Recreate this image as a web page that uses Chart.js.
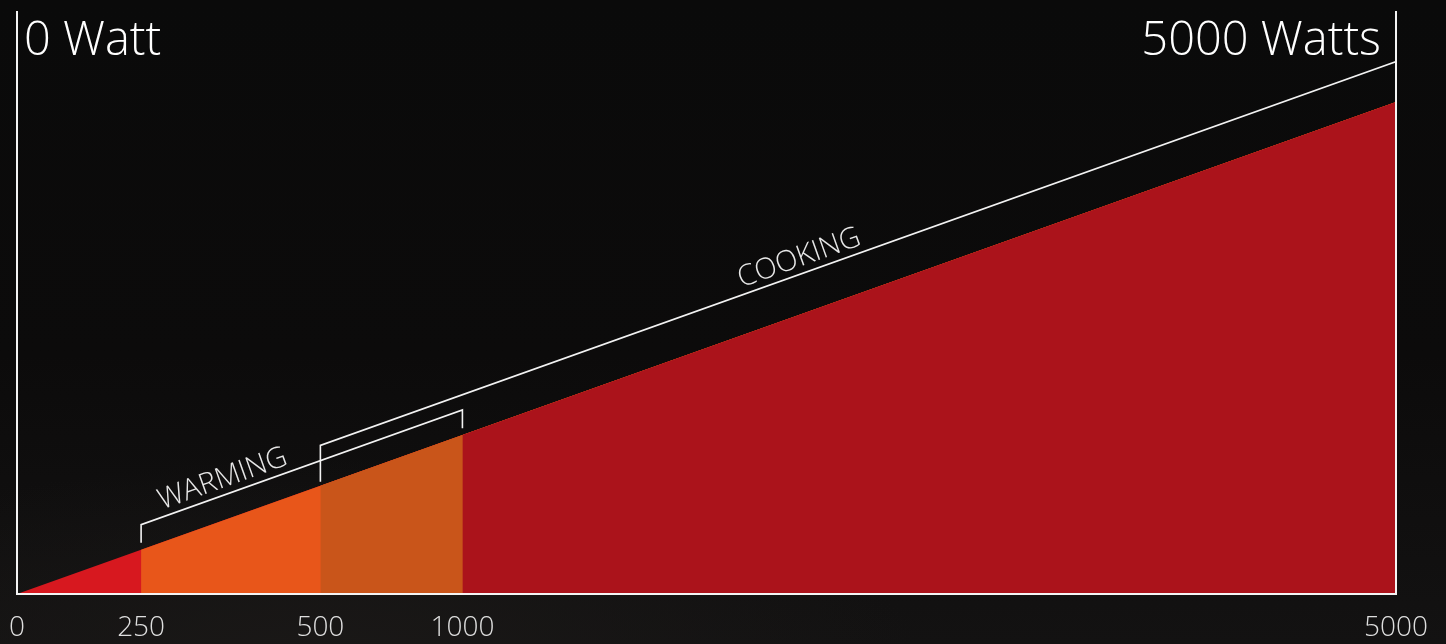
<!DOCTYPE html>
<html>
<head>
<meta charset="utf-8">
<script src="https://cdn.jsdelivr.net/npm/chart.js@4.4.1/dist/chart.umd.min.js"></script>
<style>
  html, body { margin: 0; padding: 0; width: 1446px; height: 644px; overflow: hidden; }
  body { background: radial-gradient(ellipse 600px 200px at 320px 660px, #1a1817 0%, rgba(20,18,17,0) 100%),
                     linear-gradient(#0a0a0a 0%, #0c0b0b 55%, #131212 100%); }
  #wrap { position: relative; width: 1446px; height: 644px; }
</style>
</head>
<body>
<div id="wrap"><canvas id="power"></canvas></div>
<script>
// wattage steps printed under the axis
const watts = [0, 250, 500, 1000, 5000];
// where each step sits along the (non-linear) axis, % of its width
const axisPos = [0, 9.0, 22.0, 32.3, 100];
// height of the power wedge at each step, % of full output
const level = [0, 9.0, 22.0, 32.3, 100];
// one colour per band between steps
const bandColors = ['#d7181f', '#e8561a', '#c9551a', '#ab131b'];
const endLabels = ['0 Watt', '5000 Watts'];
const ranges = [
  { label: 'WARMING', from: 250, to: 1000 },
  { label: 'COOKING', from: 500, to: 5000 }
];

const FONT = '"Open Sans", "DejaVu Sans", sans-serif';

// wedge bands: each band runs from its own step to the end and the
// next one is painted over it, so no seams show between them
const datasets = [];
const nBands = watts.length - 1;
for (let i = 0; i < nBands; i++) {
  const pts = [];
  for (let j = i; j < watts.length; j++) pts.push({ x: axisPos[j], y: level[j] });
  datasets.push({
    data: pts,
    backgroundColor: bandColors[i],
    borderWidth: 0,
    pointRadius: 0,
    fill: 'origin',
    order: 10 - i
  });
}

// brackets above the wedge: lift = height of the bar, foot = bottom of the ticks
const bracketStyle = [{ lift: 5.1, foot: 1.4 }, { lift: 8.2, foot: 0.8 }];
ranges.forEach((r, k) => {
  const i = watts.indexOf(r.from), j = watts.indexOf(r.to);
  const s = bracketStyle[k];
  datasets.push({
    data: [
      { x: axisPos[i], y: level[i] + s.foot },
      { x: axisPos[i], y: level[i] + s.lift },
      { x: axisPos[j], y: level[j] + s.lift },
      { x: axisPos[j], y: level[j] + s.foot }
    ],
    borderColor: '#f2f2f2',
    borderWidth: 1.6,
    pointRadius: 0,
    fill: false,
    tension: 0,
    order: 0
  });
});

// where along each bracket its word sits (fraction of its length)
const labelAt = [0.27, 0.45];

const overlay = {
  id: 'overlay',
  afterDatasetsDraw(chart) {
    const { ctx, chartArea: a, scales: { x, y } } = chart;
    ctx.save();
    // frame: left, right and bottom rules
    ctx.strokeStyle = '#f4f4f4';
    ctx.lineWidth = 2;
    ctx.beginPath();
    ctx.moveTo(a.left, a.top); ctx.lineTo(a.left, a.bottom);
    ctx.lineTo(a.right, a.bottom); ctx.lineTo(a.right, a.top);
    ctx.stroke();

    // end labels
    ctx.fillStyle = '#ffffff';
    ctx.font = '300 47px ' + FONT;
    ctx.textBaseline = 'alphabetic';
    ctx.textAlign = 'left';
    ctx.fillText(endLabels[0], a.left + 7, a.top + 44);
    ctx.textAlign = 'right';
    ctx.fillText(endLabels[1], a.right - 15, a.top + 44);

    // words along the brackets
    const ang = Math.atan2(y.getPixelForValue(level[0]) - y.getPixelForValue(level[nBands]),
                           x.getPixelForValue(axisPos[nBands]) - x.getPixelForValue(axisPos[0]));
    ctx.font = '300 29px ' + FONT;
    ctx.fillStyle = '#e8e8e8';
    ctx.textAlign = 'center';
    ctx.textBaseline = 'bottom';
    ranges.forEach((r, k) => {
      const meta = chart.getDatasetMeta(nBands + k);
      const p1 = meta.data[1], p2 = meta.data[2];
      const t = labelAt[k];
      const px = p1.x + (p2.x - p1.x) * t;
      const py = p1.y + (p2.y - p1.y) * t;
      ctx.save();
      ctx.translate(px, py);
      ctx.rotate(-ang);
      ctx.fillText(r.label, 0, -1);
      ctx.restore();
    });
    ctx.restore();
  }
};

new Chart(document.getElementById('power'), {
  type: 'line',
  data: { datasets },
  options: {
    responsive: true,
    maintainAspectRatio: false,
    animation: false,
    events: [],
    layout: { padding: { left: 17, right: 50, top: 11, bottom: 0 } },
    plugins: { legend: { display: false }, tooltip: { enabled: false } },
    scales: {
      x: {
        type: 'linear',
        min: 0,
        max: 100,
        grid: { display: false, drawTicks: false },
        border: { display: false },
        afterBuildTicks: (scale) => { scale.ticks = axisPos.map(v => ({ value: v })); },
        afterFit: (scale) => {
          scale.height = 50;
          scale.paddingLeft = 0;
          scale.paddingRight = 0;
        },
        ticks: {
          autoSkip: false,
          maxRotation: 0,
          padding: 17,
          color: '#dedede',
          font: { family: FONT, size: 28, weight: 300 },
          callback: (v) => watts[axisPos.indexOf(v)]
        }
      },
      y: { min: 0, max: 118.5, display: false }
    }
  },
  plugins: [overlay]
});
</script>
</body>
</html>
